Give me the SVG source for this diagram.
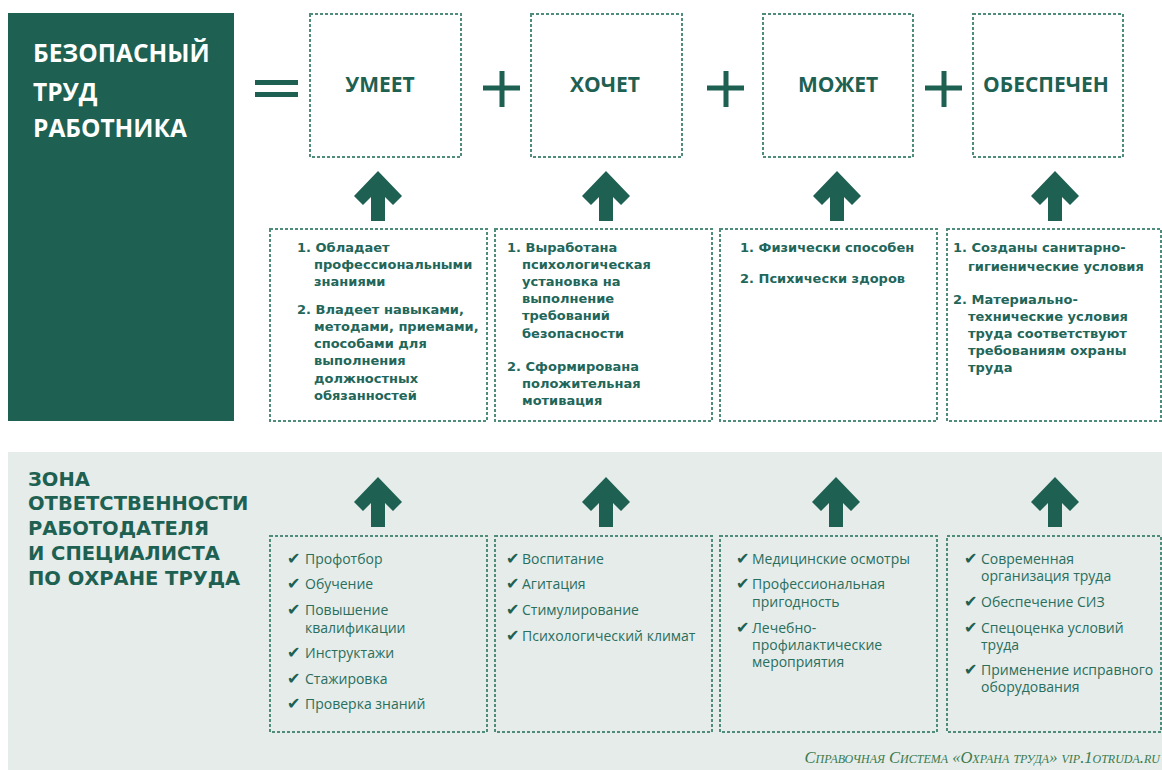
<svg xmlns="http://www.w3.org/2000/svg" width="1162" height="770" viewBox="0 0 1162 770">
  <style>
    .dg{fill:#1e6152}
    .box{fill:none;stroke:#4f8c7c;stroke-width:2;stroke-dasharray:3 2}
    .title{font-family:"Open Sans","DejaVu Sans",sans-serif;font-weight:700;font-size:24.5px;fill:#ffffff}
    .lbl{font-family:"Open Sans","DejaVu Sans",sans-serif;font-weight:700;font-size:21px;fill:#1e6152;text-anchor:middle}
    .zone{font-family:"DejaVu Sans",sans-serif;font-weight:700;font-size:19.5px;fill:#1e6152}
    .mid{font-family:"DejaVu Sans",sans-serif;font-weight:700;font-size:13px;fill:#22665a}
    .low{font-family:"Open Sans","DejaVu Sans",sans-serif;font-size:14px;fill:#2a6e5e}
    .chk{font-family:"DejaVu Sans",sans-serif;font-size:16px;fill:#1e6152}
    .foot{font-family:"Liberation Serif",serif;font-style:italic;font-variant:small-caps;font-size:16.5px;fill:#3a7a4e;text-anchor:end}
  </style>
  <defs>
    <path id="arrow" class="dg" d="M0,0 L24,25 L15,34 L7,26 L7,50 L-7,50 L-7,26 L-15,34 L-24,25 Z"/>
  </defs>
  <rect x="0" y="0" width="1162" height="770" fill="#ffffff"/>

  <!-- bottom panel -->
  <rect id="zone-panel" x="8" y="452" width="1154" height="318" fill="#e5ece9"/>

  <g id="title-node">
    <rect x="8" y="13" width="226" height="408" class="dg"/>
    <text class="title"><tspan x="33" y="62">БЕЗОПАСНЫЙ</tspan><tspan x="33" y="101">ТРУД</tspan><tspan x="33" y="137">РАБОТНИКА</tspan></text>
  </g>

  <g id="operators" class="dg">
    <rect x="255" y="80" width="43" height="5"/>
    <rect x="255" y="92" width="43" height="5"/>
    <rect x="483" y="85.5" width="37" height="5"/><rect x="499.5" y="71" width="5" height="36"/>
    <rect x="707" y="85.5" width="37" height="5"/><rect x="723.5" y="71" width="5" height="36"/>
    <rect x="925" y="85.5" width="37" height="5"/><rect x="941.5" y="71" width="5" height="36"/>
  </g>

  <g id="node-umeet"><rect class="box" x="310" y="14" width="151" height="143"/><text class="lbl" x="380" y="92">УМЕЕТ</text></g>
  <g id="node-hochet"><rect class="box" x="531" y="14" width="151" height="143"/><text class="lbl" x="605" y="92">ХОЧЕТ</text></g>
  <g id="node-mozhet"><rect class="box" x="763" y="14" width="150" height="143"/><text class="lbl" x="838" y="92">МОЖЕТ</text></g>
  <g id="node-obespechen"><rect class="box" x="973" y="14" width="150" height="143"/><text class="lbl" x="1046" y="92">ОБЕСПЕЧЕН</text></g>

  <g id="connectors">
    <use href="#arrow" x="378" y="171"/>
    <use href="#arrow" x="606" y="171"/>
    <use href="#arrow" x="837" y="171"/>
    <use href="#arrow" x="1055" y="171"/>
    <use href="#arrow" x="378" y="477"/>
    <use href="#arrow" x="606" y="477"/>
    <use href="#arrow" x="836" y="477"/>
    <use href="#arrow" x="1055" y="477"/>
  </g>

  <g id="list-umeet">
    <rect class="box" x="270" y="229" width="217" height="192"/>
    <text class="mid">
      <tspan x="297" y="252">1. Обладает</tspan>
      <tspan x="314" y="269">профессиональными</tspan>
      <tspan x="314" y="286">знаниями</tspan>
      <tspan x="297" y="314">2. Владеет навыками,</tspan>
      <tspan x="314" y="331">методами, приемами,</tspan>
      <tspan x="314" y="348">способами для</tspan>
      <tspan x="314" y="365">выполнения</tspan>
      <tspan x="314" y="383">должностных</tspan>
      <tspan x="314" y="400">обязанностей</tspan>
    </text>
  </g>
  <g id="list-hochet">
    <rect class="box" x="495" y="229" width="217" height="192"/>
    <text class="mid">
      <tspan x="507" y="252">1. Выработана</tspan>
      <tspan x="522" y="269">психологическая</tspan>
      <tspan x="522" y="286">установка на</tspan>
      <tspan x="522" y="303">выполнение</tspan>
      <tspan x="522" y="320">требований</tspan>
      <tspan x="522" y="338">безопасности</tspan>
      <tspan x="507" y="371">2. Сформирована</tspan>
      <tspan x="522" y="388">положительная</tspan>
      <tspan x="522" y="405">мотивация</tspan>
    </text>
  </g>
  <g id="list-mozhet">
    <rect class="box" x="720" y="229" width="217" height="192"/>
    <text class="mid">
      <tspan x="740" y="252">1. Физически способен</tspan>
      <tspan x="740" y="283">2. Психически здоров</tspan>
    </text>
  </g>
  <g id="list-obespechen">
    <rect class="box" x="947" y="229" width="214" height="192"/>
    <text class="mid">
      <tspan x="953" y="252">1. Созданы санитарно-</tspan>
      <tspan x="968" y="271">гигиенические условия</tspan>
      <tspan x="953" y="304">2. Материально-</tspan>
      <tspan x="968" y="321">технические условия</tspan>
      <tspan x="968" y="338">труда соответствуют</tspan>
      <tspan x="968" y="355">требованиям охраны</tspan>
      <tspan x="968" y="372">труда</tspan>
    </text>
  </g>

  <g id="zone-title">
    <text class="zone">
      <tspan x="28" y="486">ЗОНА</tspan>
      <tspan x="28" y="510">ОТВЕТСТВЕННОСТИ</tspan>
      <tspan x="28" y="535">РАБОТОДАТЕЛЯ</tspan>
      <tspan x="28" y="560">И СПЕЦИАЛИСТА</tspan>
      <tspan x="28" y="585">ПО ОХРАНЕ ТРУДА</tspan>
    </text>
  </g>

  <g id="measures-umeet">
    <rect class="box" x="270" y="536" width="217" height="196"/>
    <text class="chk"><tspan x="287" y="564">✔</tspan><tspan x="287" y="589">✔</tspan><tspan x="287" y="615">✔</tspan><tspan x="287" y="658">✔</tspan><tspan x="287" y="684">✔</tspan><tspan x="287" y="709">✔</tspan></text>
    <text class="low">
      <tspan x="305" y="564">Профотбор</tspan>
      <tspan x="305" y="589">Обучение</tspan>
      <tspan x="305" y="615">Повышение</tspan>
      <tspan x="305" y="633">квалификации</tspan>
      <tspan x="305" y="658">Инструктажи</tspan>
      <tspan x="305" y="684">Стажировка</tspan>
      <tspan x="305" y="709">Проверка знаний</tspan>
    </text>
  </g>
  <g id="measures-hochet">
    <rect class="box" x="495" y="536" width="217" height="196"/>
    <text class="chk"><tspan x="506" y="564">✔</tspan><tspan x="506" y="589">✔</tspan><tspan x="506" y="615">✔</tspan><tspan x="506" y="641">✔</tspan></text>
    <text class="low">
      <tspan x="522" y="564">Воспитание</tspan>
      <tspan x="522" y="589">Агитация</tspan>
      <tspan x="522" y="615">Стимулирование</tspan>
      <tspan x="522" y="641">Психологический климат</tspan>
    </text>
  </g>
  <g id="measures-mozhet">
    <rect class="box" x="720" y="536" width="217" height="196"/>
    <text class="chk"><tspan x="736" y="564">✔</tspan><tspan x="736" y="589">✔</tspan><tspan x="736" y="633">✔</tspan></text>
    <text class="low">
      <tspan x="752" y="564">Медицинские осмотры</tspan>
      <tspan x="752" y="589">Профессиональная</tspan>
      <tspan x="752" y="607">пригодность</tspan>
      <tspan x="752" y="633">Лечебно-</tspan>
      <tspan x="752" y="650">профилактические</tspan>
      <tspan x="752" y="667">мероприятия</tspan>
    </text>
  </g>
  <g id="measures-obespechen">
    <rect class="box" x="947" y="536" width="214" height="196"/>
    <text class="chk"><tspan x="964" y="564">✔</tspan><tspan x="964" y="607">✔</tspan><tspan x="964" y="633">✔</tspan><tspan x="964" y="675">✔</tspan></text>
    <text class="low">
      <tspan x="981" y="564">Современная</tspan>
      <tspan x="981" y="581">организация труда</tspan>
      <tspan x="981" y="607">Обеспечение СИЗ</tspan>
      <tspan x="981" y="633">Спецоценка условий</tspan>
      <tspan x="981" y="650">труда</tspan>
      <tspan x="981" y="675">Применение исправного</tspan>
      <tspan x="981" y="692">оборудования</tspan>
    </text>
  </g>

  <text class="foot" x="1160" y="763">Справочная Система «Охрана труда» vip.1otruda.ru</text>
</svg>
